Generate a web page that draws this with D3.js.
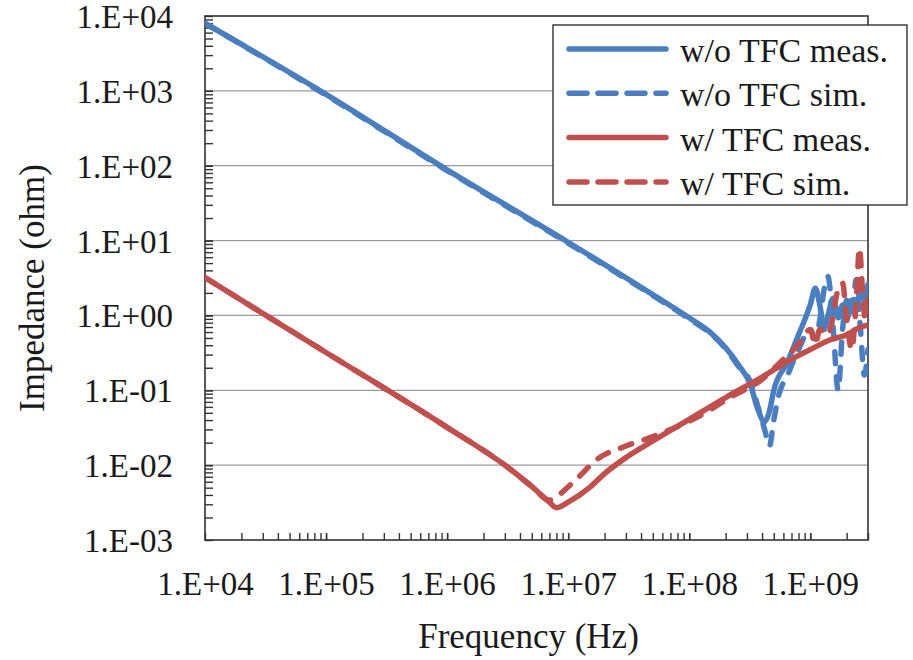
<!DOCTYPE html>
<html>
<head>
<meta charset="utf-8">
<script src="https://cdn.jsdelivr.net/npm/d3@7"></script>
</head>
<body style="margin:0">
<script>
// Chart settings
const width = 913;
const height = 660;
const margin = { top: 16, right: 45, bottom: 120, left: 205 };
const fontFamily = 'Times New Roman';

// Tick values (decades)
const freqTicks = [1e4, 1e5, 1e6, 1e7, 1e8, 1e9];
const zTicks = [1e-3, 1e-2, 1e-1, 1e0, 1e1, 1e2, 1e3, 1e4];

// Legend names
const seriesNames = ['w/o TFC meas.', 'w/o TFC sim.', 'w/ TFC meas.', 'w/ TFC sim.'];

// w/o TFC, measured
const fBlueMeas = [1e4, 1e5, 1e6, 1e7, 5e7, 1e8, 1.5e8, 2e8, 2.6e8, 3.2e8, 3.7e8, 4.2e8, 4.6e8, 5e8, 6.5e8, 8e8,
  1e9, 1.1e9, 1.2e9, 1.3e9, 1.4e9, 1.55e9, 1.7e9, 1.85e9, 2e9, 2.2e9, 2.4e9, 2.6e9, 2.8e9, 3e9];
const zBlueMeas = [8000, 900, 88, 9.5, 1.9, 0.93, 0.59, 0.37, 0.21, 0.12, 0.055, 0.038, 0.052, 0.10, 0.24, 0.55,
  1.38, 2.3, 1.38, 0.65, 1.0, 1.7, 0.93, 1.38, 0.87, 1.6, 1.2, 2.2, 1.6, 2.6];

// w/o TFC, simulated
const fBlueSim = [1e4, 1e5, 1e6, 1e7, 5e7, 1e8, 1.5e8, 2e8, 2.6e8, 3.2e8, 3.7e8, 4.2e8, 4.6e8, 5e8, 5.5e8, 6.5e8, 8e8,
  1e9, 1.1e9, 1.2e9, 1.3e9, 1.4e9, 1.55e9, 1.7e9, 1.85e9, 2e9, 2.2e9, 2.4e9, 2.6e9, 2.8e9, 3e9];
const zBlueSim = [8000, 880, 86, 9.2, 1.85, 0.9, 0.57, 0.36, 0.2, 0.13, 0.06, 0.03, 0.018, 0.04, 0.087, 0.16, 0.35,
  0.65, 0.48, 0.87, 2.2, 3.3, 0.65, 0.10, 0.65, 1.6, 1.0, 3.0, 0.65, 0.16, 0.35];

// w/ TFC, measured
const fRedMeas = [1e4, 1e5, 1e6, 3e6, 5e6, 7e6, 8e6, 1e7, 1.5e7, 2e7, 3e7, 5e7, 1e8, 2e8, 4e8, 7e8,
  1e9, 1.5e9, 2e9, 2.5e9, 3e9];
const zRedMeas = [3.2, 0.32, 0.032, 0.010, 0.0052, 0.0032, 0.0027, 0.0032, 0.005, 0.0077, 0.0126, 0.021, 0.041, 0.08, 0.15, 0.26,
  0.35, 0.48, 0.55, 0.68, 0.75];

// w/ TFC, simulated
const fRedSim = [1e4, 1e5, 1e6, 3e6, 5e6, 7e6, 8e6, 1.1e7, 1.8e7, 3e7, 5e7, 1.2e8, 2.2e8, 4e8, 6e8, 8e8,
  1e9, 1.1e9, 1.2e9, 1.4e9, 1.7e9, 1.85e9, 2e9, 2.2e9, 2.4e9, 2.55e9, 2.7e9, 2.85e9, 3e9];
const zRedSim = [3.2, 0.32, 0.032, 0.010, 0.0052, 0.0034, 0.0038, 0.0059, 0.0125, 0.018, 0.024, 0.045, 0.081, 0.14, 0.26, 0.41,
  0.65, 0.41, 0.65, 0.55, 2.2, 2.7, 0.87, 0.35, 1.6, 8, 2.2, 0.87, 2.2];

const blue = '#4a7ebf';
const red = '#c0504d';

const series = [
  { name: seriesNames[0], f: fBlueMeas, z: zBlueMeas, color: blue, dash: null },
  { name: seriesNames[1], f: fBlueSim, z: zBlueSim, color: blue, dash: '12,13' },
  { name: seriesNames[2], f: fRedMeas, z: zRedMeas, color: red, dash: null },
  { name: seriesNames[3], f: fRedSim, z: zRedSim, color: red, dash: '12,13' }
];

const svg = d3.select('body')
  .append('svg')
  .attr('width', width)
  .attr('height', height);

// Scales (log-log)
const x = d3.scaleLog()
  .domain([1e4, 3e9])
  .range([margin.left, width - margin.right]);

const y = d3.scaleLog()
  .domain([1e-3, 1e4])
  .range([height - margin.bottom, margin.top]);

// minor ticks 2..9 in each decade
const xMinor = [];
for (let d = 1e4; d < 3e9; d *= 10) for (let k = 1; k <= 10; k++) if (d * k <= 3e9) xMinor.push(d * k);
const yMinor = [];
for (let d = 1e-3; d < 1e4; d *= 10) for (let k = 1; k <= 10; k++) yMinor.push(d * k);

const fmt = v => {
  const e = Math.round(Math.log10(v));
  return '1.E' + (e < 0 ? '-' : '+') + String(Math.abs(e)).padStart(2, '0');
};

// Horizontal gridlines
svg.append('g')
  .selectAll('line')
  .data(zTicks.slice(1, -1))
  .enter()
  .append('line')
  .attr('x1', x.range()[0])
  .attr('x2', x.range()[1])
  .attr('y1', d => y(d))
  .attr('y2', d => y(d))
  .attr('stroke', '#9a9a9a')
  .attr('stroke-width', 1.3);

// Plot frame
svg.append('rect')
  .attr('x', x.range()[0])
  .attr('y', y.range()[1])
  .attr('width', x.range()[1] - x.range()[0])
  .attr('height', y.range()[0] - y.range()[1])
  .attr('fill', 'none')
  .attr('stroke', '#333')
  .attr('stroke-width', 1.6);

// Minor ticks (pointing inside)
svg.append('g')
  .attr('transform', `translate(0, ${y.range()[0]})`)
  .call(d3.axisBottom(x).tickValues(xMinor).tickSize(-7).tickFormat(''))
  .call(g => g.select('.domain').remove())
  .call(g => g.selectAll('line').attr('stroke', '#333').attr('stroke-width', 1.4));

svg.append('g')
  .attr('transform', `translate(${x.range()[0]}, 0)`)
  .call(d3.axisLeft(y).tickValues(yMinor).tickSize(-8).tickFormat(''))
  .call(g => g.select('.domain').remove())
  .call(g => g.selectAll('line').attr('stroke', '#333').attr('stroke-width', 1.4));

// Tick labels
svg.append('g')
  .attr('transform', `translate(0, ${y.range()[0]})`)
  .call(d3.axisBottom(x).tickValues(freqTicks).tickSize(0).tickFormat(fmt))
  .attr('font-family', fontFamily)
  .attr('font-size', 33)
  .call(g => g.select('.domain').remove())
  .call(g => g.selectAll('text')
    .attr('y', 55).attr('dy', null)
    .attr('font-family', fontFamily)
    .attr('fill', '#1a1a1a'));

svg.append('g')
  .attr('transform', `translate(${x.range()[0]}, 0)`)
  .call(d3.axisLeft(y).tickValues(zTicks).tickSize(0).tickPadding(32).tickFormat(fmt))
  .attr('font-family', fontFamily)
  .attr('font-size', 33)
  .call(g => g.select('.domain').remove())
  .call(g => g.selectAll('text')
    .attr('dy', '0.35em')
    .attr('font-family', fontFamily)
    .attr('fill', '#1a1a1a'));

// Axis titles
svg.append('text')
  .attr('x', (x.range()[0] + x.range()[1]) / 2 - 8)
  .attr('y', 648)
  .attr('text-anchor', 'middle')
  .attr('font-family', fontFamily)
  .attr('font-size', 35)
  .attr('fill', '#1a1a1a')
  .text('Frequency (Hz)');

svg.append('text')
  .attr('transform', `translate(44, ${(y.range()[0] + y.range()[1]) / 2 + 10}) rotate(-90)`)
  .attr('text-anchor', 'middle')
  .attr('font-family', fontFamily)
  .attr('font-size', 35)
  .attr('fill', '#1a1a1a')
  .text('Impedance (ohm)');

// Curves
svg.append('clipPath')
  .attr('id', 'plot-clip')
  .append('rect')
  .attr('x', x.range()[0])
  .attr('y', y.range()[1])
  .attr('width', x.range()[1] - x.range()[0])
  .attr('height', y.range()[0] - y.range()[1]);

const line = d3.line()
  .x(d => x(d[0]))
  .y(d => y(d[1]))
  .curve(d3.curveMonotoneX);

svg.append('g')
  .attr('clip-path', 'url(#plot-clip)')
  .selectAll('path')
  .data(series)
  .enter()
  .append('path')
  .attr('d', s => line(d3.zip(s.f, s.z)))
  .attr('fill', 'none')
  .attr('stroke', s => s.color)
  .attr('stroke-width', 5.5)
  .attr('stroke-linejoin', 'round')
  .attr('stroke-linecap', 'round')
  .attr('stroke-dasharray', s => s.dash);

// Legend
const legend = svg.append('g');

legend.append('rect')
  .attr('x', 553)
  .attr('y', 25)
  .attr('width', 354)
  .attr('height', 180)
  .attr('fill', '#fff')
  .attr('stroke', '#333')
  .attr('stroke-width', 1.4);

const rows = legend.selectAll('g.row')
  .data(series)
  .enter()
  .append('g')
  .attr('class', 'row')
  .attr('transform', (d, i) => `translate(0, ${49 + i * 44.3})`);

rows.append('line')
  .attr('x1', 569)
  .attr('x2', 666)
  .attr('stroke', d => d.color)
  .attr('stroke-width', 5.5)
  .attr('stroke-linecap', 'round')
  .attr('stroke-dasharray', d => d.dash ? '18,11' : null);

rows.append('text')
  .attr('x', 680)
  .attr('y', 13)
  .attr('font-family', fontFamily)
  .attr('font-size', 34)
  .attr('fill', '#1a1a1a')
  .text(d => d.name);
</script>
</body>
</html>
